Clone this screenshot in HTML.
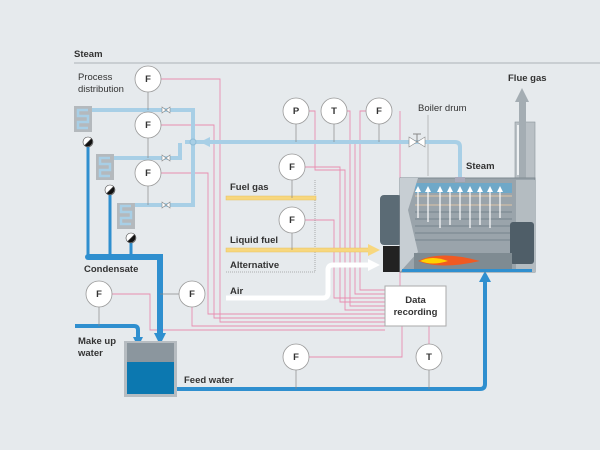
<!DOCTYPE html>
<html><head><style>
html,body{margin:0;padding:0;background:#e6eaed}
svg{display:block}
text{font-family:"Liberation Sans",sans-serif;font-size:9.5px;fill:#333}
.b{font-weight:bold}
</style></head><body>
<svg width="600" height="450" viewBox="0 0 600 450">
<rect width="600" height="450" fill="#e6eaed"/>
<text x="74" y="57" class="b" font-size="11">Steam</text>
<line x1="74" y1="63" x2="600" y2="63" stroke="#bfc5ca" stroke-width="1.5"/>
<text x="78" y="80" fill="#666">Process</text>
<text x="78" y="92" fill="#666">distribution</text>

<!-- pink signal lines -->
<g fill="none" stroke="#e88db0" stroke-width="0.9">
<path d="M161,79 H220 V322 H385"/>
<path d="M161,125 H214 V318 H385"/>
<path d="M161,173 H208 V314 H385"/>
<path d="M112,294 H150 V330 H385"/>
<path d="M192,307 V326 H385"/>
<path d="M309,111 H315 V170 H345 V310 H385"/>
<path d="M347,111 H350 V140 H350 V306 H385"/>
<path d="M392,111 H360 V290 H385"/>
<path d="M305,167 H340 V302 H385"/>
<path d="M305,220 H334 V298 H385"/>
<path d="M309,357 H402 V326"/>
<path d="M429,344 V326"/>
<path d="M400,111 V290 M355,140 V294 H385"/>
</g>
<line x1="315" y1="180" x2="315" y2="272" stroke="#999" stroke-width="0.8" stroke-dasharray="1,1"/>
<line x1="226" y1="272" x2="315" y2="272" stroke="#999" stroke-width="0.8" stroke-dasharray="1,1"/>
<line x1="428" y1="115" x2="428" y2="176" stroke="#999" stroke-width="0.6"/>

<!-- steam pipes -->
<g fill="none" stroke="#a8cfe6" stroke-width="4">
<path d="M84,110 H193 V205 H125"/>
<path d="M105,158 H180 V143"/>
<path d="M185,142 H455 Q460,142 460,147 V178"/>
</g>
<polygon points="200,142 210,137 210,147" fill="#a8cfe6"/>
<circle cx="193" cy="142" r="3" fill="#a8cfe6" stroke="#8fbcd6"/>
<!-- heat exchangers -->
<g fill="#b4b9bd"><rect x="74" y="106" width="18" height="26"/><rect x="96" y="154" width="18" height="26"/><rect x="117" y="203" width="18" height="26"/></g>
<g fill="none" stroke="#a8cfe6" stroke-width="2.5">
<path d="M88,110 H78 V116 H88 V122 H78 V128 H88"/>
<path d="M110,158 H100 V164 H110 V170 H100 V176 H110"/>
<path d="M131,206 H121 V212 H131 V218 H121 V224 H131"/>
</g>
<!-- valves small -->
<g fill="#fff" stroke="#888" stroke-width="0.6">
<path d="M162,107 L170,113 V107 L162,113Z"/><path d="M162,155 L170,161 V155 L162,161Z"/><path d="M162,202 L170,208 V202 L162,208Z"/>
<path d="M409,137 L425,147 V137 L409,147Z"/>
</g>
<line x1="417" y1="142" x2="417" y2="134" stroke="#888"/><line x1="413" y1="134" x2="421" y2="134" stroke="#888"/>

<!-- condensate -->
<g fill="none" stroke="#2f8fcf" stroke-width="3">
<path d="M88,146 V256"/><path d="M110,194 V256"/><path d="M131,242 V256"/>
</g>
<path d="M88,257 H160 V335" fill="none" stroke="#2f8fcf" stroke-width="6"/>
<polygon points="154,333 166,333 160,345" fill="#2f8fcf"/>
<g fill="#2f8fcf"><circle cx="88" cy="257" r="3"/><circle cx="110" cy="257" r="3"/><circle cx="131" cy="257" r="3"/></g>
<!-- traps -->
<g stroke="#555" stroke-width="0.6">
<circle cx="88" cy="142" r="5" fill="#fff"/><path d="M84.5,145.5 A5,5 0 0 1 91.5,138.5Z" fill="#111" transform="rotate(180 88 142)"/>
<circle cx="110" cy="190" r="5" fill="#fff"/><path d="M106.5,193.5 A5,5 0 0 1 113.5,186.5Z" fill="#111" transform="rotate(180 110 190)"/>
<circle cx="131" cy="238" r="5" fill="#fff"/><path d="M127.5,241.5 A5,5 0 0 1 134.5,234.5Z" fill="#111" transform="rotate(180 131 238)"/>
</g>
<text x="84" y="272" class="b">Condensate</text>

<!-- make up water -->
<path d="M75,326 H134 Q138,326 138,330 V338" fill="none" stroke="#2f8fcf" stroke-width="4"/>
<polygon points="133,337 143,337 138,347" fill="#2f8fcf"/>
<text x="78" y="344" class="b">Make up</text>
<text x="78" y="356" class="b">water</text>
<!-- tank -->
<rect x="124" y="341" width="53" height="56" fill="#b6bcc1"/>
<rect x="127" y="343" width="47" height="19" fill="#8b969e"/>
<rect x="127" y="362" width="47" height="32" fill="#0c78b0"/>
<text x="184" y="383" class="b">Feed water</text>
<!-- feed water -->
<path d="M177,389 H480 Q485,389 485,384 V280" fill="none" stroke="#2f8fcf" stroke-width="4"/>
<polygon points="479,282 491,282 485,271" fill="#2f8fcf"/>

<!-- fuel -->
<rect x="226" y="196" width="90" height="4" fill="#f7d77e" stroke="#e8c060" stroke-width="0.5"/>
<rect x="226" y="248" width="144" height="4" fill="#f7d77e" stroke="#e8c060" stroke-width="0.5"/>
<polygon points="368,244 380,250 368,256" fill="#f7d77e"/>
<path d="M226,298 H323 Q328,298 328,293 V270 Q328,265 333,265 H370" fill="none" stroke="#fff" stroke-width="5"/>
<path d="M226,298 H323 Q328,298 328,293 V270 Q328,265 333,265 H370" fill="none" stroke="#fff" stroke-width="3"/>
<polygon points="368,259 380,265 368,271" fill="#fff"/>
<text x="230" y="190" class="b">Fuel gas</text>
<text x="230" y="243" class="b">Liquid fuel</text>
<text x="230" y="268" class="b">Alternative</text>
<text x="230" y="294" class="b">Air</text>

<!-- chimney -->
<rect x="515" y="122" width="20" height="62" fill="#b9c0c5" stroke="#8a949b" stroke-width="0.6"/>
<rect x="517" y="125" width="6" height="50" fill="#eef1f3"/>
<rect x="519" y="100" width="7" height="84" fill="#a4adb3"/>
<polygon points="515,102 522,88 529,102" fill="#a4adb3"/>
<text x="508" y="81" class="b">Flue gas</text>
<text x="418" y="111" fill="#666">Boiler drum</text>
<text x="466" y="169" class="b">Steam</text>
<!-- boiler -->
<rect x="380" y="195" width="22" height="50" rx="4" fill="#5b6b75"/>
<rect x="383" y="246" width="20" height="26" fill="#222"/>
<rect x="400" y="178" width="135" height="94" fill="#9aa4ab" stroke="#7f8a91"/>
<rect x="516" y="180" width="19" height="92" fill="#b4bcc1"/>
<rect x="455" y="177" width="10" height="5" fill="#aab"/>
<rect x="415" y="183" width="97" height="10" fill="#6fa8c8"/>
<g stroke="#c8b9a8" stroke-width="1.5"><line x1="415" y1="196" x2="512" y2="196"/><line x1="415" y1="205" x2="512" y2="205"/></g>
<g stroke="#7d8a93" stroke-width="1.2"><line x1="415" y1="212" x2="512" y2="212"/><line x1="415" y1="219" x2="512" y2="219"/><line x1="415" y1="226" x2="512" y2="226"/><line x1="415" y1="233" x2="512" y2="233"/><line x1="415" y1="240" x2="512" y2="240"/></g>
<polygon points="400,178 418,178 408,210 418,252 400,272" fill="#c7ced3"/>
<rect x="510" y="222" width="24" height="42" rx="3" fill="#4f5e68"/>
<rect x="414" y="253" width="98" height="16" fill="#7f8b92"/>
<path d="M418,261 Q440,250 480,261 Q440,270 418,261Z" fill="#f05a22"/>
<path d="M420,261 Q432,255 448,261 Q432,266 420,261Z" fill="#ffd200"/>
<rect x="402" y="269" width="130" height="3" fill="#2f8fcf"/>
<g stroke="#fff" stroke-width="1.2" fill="none">
<path d="M418,218 V190"/><path d="M428,222 V190"/><path d="M440,228 V190"/><path d="M450,225 V190"/><path d="M460,220 V190"/><path d="M470,228 V190"/><path d="M480,225 V190"/><path d="M490,228 V190"/><path d="M500,218 V190"/>
</g>
<g fill="#fff"><polygon points="415,192 418,186 421,192"/><polygon points="425,192 428,186 431,192"/><polygon points="437,192 440,186 443,192"/><polygon points="447,192 450,186 453,192"/><polygon points="457,192 460,186 463,192"/><polygon points="467,192 470,186 473,192"/><polygon points="477,192 480,186 483,192"/><polygon points="487,192 490,186 493,192"/><polygon points="497,192 500,186 503,192"/></g>

<!-- data recording -->
<rect x="385" y="286" width="61" height="40" fill="#fff" stroke="#aaa"/>
<text x="415.5" y="303" class="b" text-anchor="middle">Data</text>
<text x="415.5" y="315" class="b" text-anchor="middle">recording</text>

<!-- instrument circles -->
<g stroke="#888" stroke-width="0.7">
<line x1="148" y1="92" x2="148" y2="110"/><line x1="148" y1="138" x2="148" y2="158"/><line x1="148" y1="186" x2="148" y2="205"/>
<line x1="296" y1="124" x2="296" y2="142"/><line x1="334" y1="124" x2="334" y2="142"/><line x1="379" y1="124" x2="379" y2="142"/>
<line x1="292" y1="180" x2="292" y2="198"/><line x1="292" y1="233" x2="292" y2="250"/>
<line x1="99" y1="307" x2="99" y2="326"/><line x1="179" y1="294" x2="160" y2="294"/>
<line x1="296" y1="370" x2="296" y2="389"/><line x1="429" y1="370" x2="429" y2="389"/>
</g>
<g fill="#fff" stroke="#999" stroke-width="0.8">
<circle cx="148" cy="79" r="13"/><circle cx="148" cy="125" r="13"/><circle cx="148" cy="173" r="13"/>
<circle cx="296" cy="111" r="13"/><circle cx="334" cy="111" r="13"/><circle cx="379" cy="111" r="13"/>
<circle cx="292" cy="167" r="13"/><circle cx="292" cy="220" r="13"/>
<circle cx="99" cy="294" r="13"/><circle cx="192" cy="294" r="13"/>
<circle cx="296" cy="357" r="13"/><circle cx="429" cy="357" r="13"/>
</g>
<g class="b" text-anchor="middle" font-size="9">
<text x="148" y="82" class="b">F</text><text x="148" y="128" class="b">F</text><text x="148" y="176" class="b">F</text>
<text x="296" y="114" class="b">P</text><text x="334" y="114" class="b">T</text><text x="379" y="114" class="b">F</text>
<text x="292" y="170" class="b">F</text><text x="292" y="223" class="b">F</text>
<text x="99" y="297" class="b">F</text><text x="192" y="297" class="b">F</text>
<text x="296" y="360" class="b">F</text><text x="429" y="360" class="b">T</text>
</g>
</svg>
</body></html>
